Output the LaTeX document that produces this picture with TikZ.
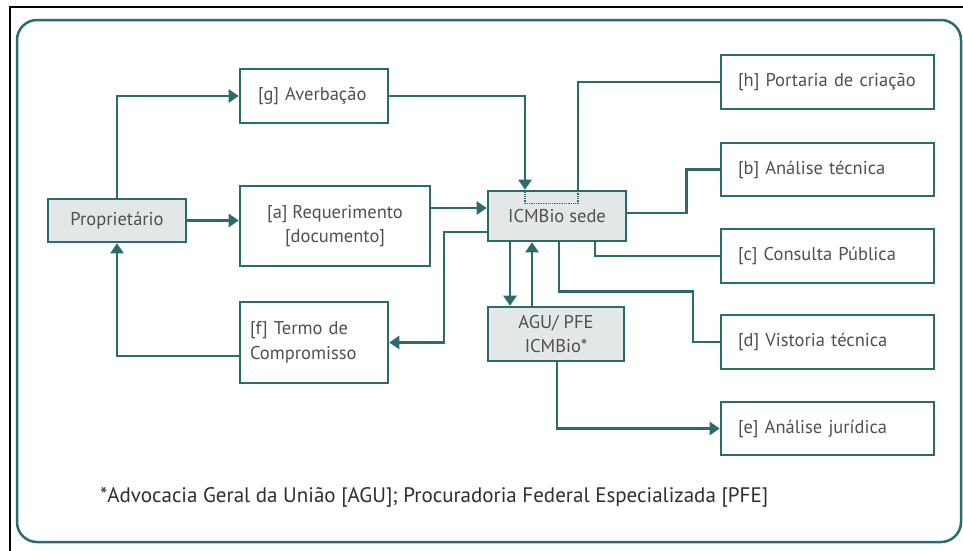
\documentclass[tikz,border=0pt]{standalone}
\usepackage{fontspec}
\setmainfont{PT Sans}
\usetikzlibrary{arrows.meta}
\definecolor{teal1}{HTML}{2B6B6B}
\definecolor{boxfill}{HTML}{E4E7E7}
\definecolor{txt}{HTML}{505050}
\definecolor{footc}{HTML}{2E2E2E}
\begin{document}
\begin{tikzpicture}[x=1pt,y=-1pt,
  box/.style={draw=teal1, line width=2.6pt, fill=white, text=txt,
    font=\fontsize{18.5}{24.5}\selectfont, inner ysep=0pt, minimum height=54pt},
  gbox/.style={box, fill=boxfill, inner xsep=0pt, align=center},
  rbox/.style={box, text width=179pt, inner xsep=17pt, align=left},
  conn/.style={draw=teal1, line width=2.4pt},
  arr/.style={conn, -{Triangle[width=13pt,length=10pt]}},
  dotl/.style={draw=teal1, line width=1.3pt, densely dotted}]
\useasboundingbox (0,0) rectangle (963,550);
\draw[black, line width=1.5pt] (10,552) -- (10,7) -- (965,7);
\draw[teal1, line width=2.5pt, rounded corners=20pt] (17,20) rectangle (961,542);

\node[gbox, minimum width=138pt, minimum height=43pt] (prop) at (117,220.5) {Proprietário};
\node[box, text width=112pt, inner xsep=18pt, align=left] (g) at (314,96) {[g] Averbação};
\node[box, minimum width=190pt, minimum height=80pt, align=center] (a) at (335,226) {[a] Requerimento\\{}[documento]};
\node[gbox, minimum width=138pt, minimum height=50pt] (icm) at (557,216) {ICMBio sede};
\node[gbox, minimum width=136pt, minimum height=54pt] (agu) at (556,334) {AGU/ PFE\\ICMBio*};
\node[box, text width=128pt, inner xsep=10pt, align=left, minimum height=81pt] (f) at (314,342.5) {[f] Termo de\\Compromisso};
\node[rbox] (h) at (827.5,82) {[h] Portaria de criação};
\node[rbox, minimum height=53pt] (b) at (827.5,169.5) {[b] Análise técnica};
\node[rbox] (c) at (827.5,256) {[c] Consulta Pública};
\node[rbox] (d) at (827.5,342) {[d] Vistoria técnica};
\node[rbox, minimum height=53pt] (e) at (827.5,428.5) {[e] Análise jurídica};

\node[anchor=west, text=footc, inner sep=0pt, font=\fontsize{21}{24}\selectfont] (note) at (100,497)
  {*Advocacia Geral da União [AGU]; Procuradoria Federal Especializada [PFE]};

% connectors
\draw[arr] (prop.north) |- (g.west);
\draw[arr] (prop.east) -- (prop.east -| a.west);
\draw[arr] (g.east) -| ([xshift=-32pt]icm.north);
\coordinate (a1) at ([yshift=18pt]a.east);
\draw[arr] (a1) -- (a1 -| icm.west);
\coordinate (i5) at ([yshift=-16pt]icm.west);
\draw[arr] (i5) -- ++(-43,0) |- (f.east);
\draw[arr] ([yshift=-13.5pt]f.west) -| (prop.south);
\draw[conn] ([xshift=21pt]icm.north) |- (h.west);
\draw[conn] ([yshift=3pt]icm.east) -- ++(59,0) |- (b.west);
\draw[conn] ([xshift=38pt]icm.south) |- (c.west);
\draw[conn] ([xshift=2pt]icm.south) -- ++(0,49) -- ++(134,0) |- (d.west);
\coordinate (i11) at ([xshift=-47pt]icm.south);
\draw[arr] (i11) -- (i11 |- agu.north);
\coordinate (g12) at ([xshift=-24pt]agu.north);
\draw[arr] (g12) -- (g12 |- icm.south);
\draw[arr] ([xshift=1pt]agu.south) |- (e.west);
\draw[dotl] ([xshift=-32pt,yshift=-1.5pt]icm.north) -- ++(0,12) -- ++(53,0) -- ++(0,-12);
\end{tikzpicture}
\end{document}
